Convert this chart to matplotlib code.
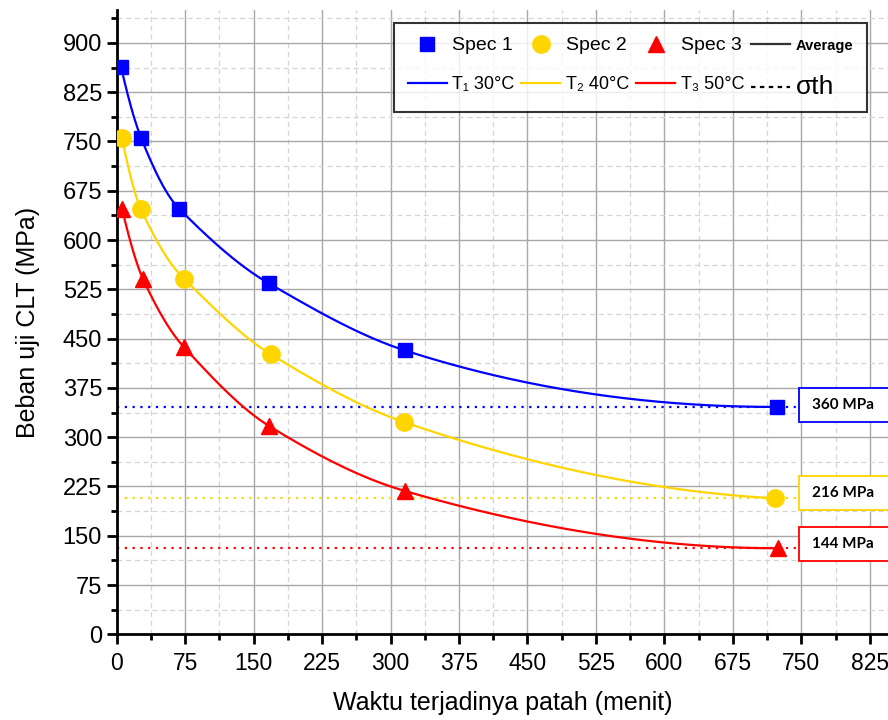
import matplotlib
matplotlib.use('Agg')
import matplotlib.pyplot as plt
import numpy as np
from matplotlib.lines import Line2D
from matplotlib.patches import Rectangle
from matplotlib.ticker import MultipleLocator

### Data
spec1_x = [4.7, 26.6, 68.2, 166.8, 315.8, 723.0]
spec1_y = [864, 756, 648, 534, 432, 346]
spec2_x = [5.8, 26.6, 73.7, 169.0, 314.7, 721.0]
spec2_y = [755, 647, 541, 426, 323, 207]
spec3_x = [5.8, 28.8, 73.7, 167.0, 316.0, 724.0]
spec3_y = [648, 541, 437, 317, 218, 131]

sigma_th = [346, 208, 132]
box_labels = ['360 MPa', '216 MPa', '144 MPa']
box_centers = [348.6, 214.5, 137.0]

series_labels = ['Spec 1', 'Spec 2', 'Spec 3']
temp_labels = ['T\u2081 30\u00b0C', 'T\u2082 40\u00b0C', 'T\u2083 50\u00b0C']

BLUE = '#0000ff'
YELLOW = '#ffd500'
RED = '#ff0000'
colors = [BLUE, YELLOW, RED]
markers = ['s', 'o', '^']
msizes = [10, 12.5, 11.5]

SANS = ['Liberation Sans', 'DejaVu Sans']


def smooth_connect(x, y, n=400):
    """Akima-style cubic Hermite curve through the points, kept monotone."""
    x = np.asarray(x, float)
    y = np.asarray(y, float)
    npts = len(x)
    h = np.diff(x)
    d = np.diff(y) / h
    ext = np.zeros(npts + 3)
    ext[2:npts + 1] = d
    ext[1] = 2 * d[0] - d[1]
    ext[0] = 2 * ext[1] - d[0]
    ext[npts + 1] = 2 * d[-1] - d[-2]
    ext[npts + 2] = 2 * ext[npts + 1] - d[-1]
    m = np.zeros(npts)
    for i in range(npts):
        w1 = abs(ext[i + 3] - ext[i + 2])
        w2 = abs(ext[i + 1] - ext[i])
        if w1 + w2 > 0:
            m[i] = (w1 * ext[i + 1] + w2 * ext[i + 2]) / (w1 + w2)
        else:
            m[i] = 0.5 * (ext[i + 1] + ext[i + 2])
    # no overshoot: slope sign must follow the neighbouring segments
    for i in range(npts):
        segs = d[max(i - 1, 0):i + 1]
        if np.any(np.sign(segs) != np.sign(m[i])):
            m[i] = 0.0
    for k in range(len(d)):
        a, b = m[k] / d[k], m[k + 1] / d[k]
        s = a * a + b * b
        if s > 9:
            tau = 3 / np.sqrt(s)
            m[k], m[k + 1] = tau * a * d[k], tau * b * d[k]
    xx = np.linspace(x[0], x[-1], n)
    idx = np.clip(np.searchsorted(x, xx) - 1, 0, len(h) - 1)
    t = (xx - x[idx]) / h[idx]
    h00 = 2 * t**3 - 3 * t**2 + 1
    h10 = t**3 - 2 * t**2 + t
    h01 = -2 * t**3 + 3 * t**2
    h11 = t**3 - t**2
    yy = (h00 * y[idx] + h10 * h[idx] * m[idx]
          + h01 * y[idx + 1] + h11 * h[idx] * m[idx + 1])
    return xx, yy


fig = plt.figure(figsize=(8.88, 7.2), dpi=100)
ax = fig.add_axes([0.1314, 0.119, 0.8686, 0.867])

xs = [spec1_x, spec2_x, spec3_x]
ys = [spec1_y, spec2_y, spec3_y]
for x, y, c, m, ms in zip(xs, ys, colors, markers, msizes):
    xx, yy = smooth_connect(x, y)
    ax.plot(xx, yy, color=c, lw=1.6, zorder=3)
    ax.plot(x, y, linestyle='none', marker=m, color=c, markersize=ms, zorder=4)

# sigma_th lines and value boxes
for s, c in zip(sigma_th, colors):
    ax.hlines(s, 0, 745, colors=c, linestyles=(0, (1, 2.5)), lw=1.6, zorder=2)
for lab, yc, c in zip(box_labels, box_centers, colors):
    ax.add_patch(Rectangle((747, yc - 25.9), 110, 51.8, facecolor='white',
                           edgecolor=c, lw=1.3, clip_on=False, zorder=5))
    ax.text(795.5, yc, lab, ha='center', va='center', fontsize=11,
            fontweight='bold', family=['Lato', 'DejaVu Sans'], zorder=6)

ax.set_xlim(0, 845)
ax.set_ylim(0, 950)
ax.xaxis.set_major_locator(MultipleLocator(75))
ax.xaxis.set_minor_locator(MultipleLocator(37.5))
ax.yaxis.set_major_locator(MultipleLocator(75))
ax.yaxis.set_minor_locator(MultipleLocator(37.5))
ax.set_yticks(np.arange(0, 901, 75))

ax.grid(which='major', color='#a8a8a8', lw=1.0, zorder=0)
ax.grid(which='minor', color='#d4d4d4', lw=0.9, linestyle=(0, (4, 3)), zorder=0)
ax.set_axisbelow(True)

for side in ['top', 'right']:
    ax.spines[side].set_visible(False)
for side in ['left', 'bottom']:
    ax.spines[side].set_linewidth(2)
ax.tick_params(which='major', direction='out', length=7, width=2)
ax.tick_params(which='minor', direction='out', length=4, width=2)
ax.tick_params(axis='x', pad=6)

for lbl in ax.get_yticklabels():
    lbl.set_family(SANS)
    lbl.set_fontsize(17)
for lbl in ax.get_xticklabels():
    lbl.set_family(SANS)
    lbl.set_fontsize(16.5)

ax.set_xlabel('Waktu terjadinya patah (menit)', family=SANS, fontsize=18, labelpad=11)
ax.set_ylabel('Beban uji CLT (MPa)', family=SANS, fontsize=18, labelpad=16)

# legend: column-major order for ncol=4
handles, labels = [], []
for lab, tlab, c, m, ms in zip(series_labels, temp_labels, colors, markers, msizes):
    handles.append(Line2D([], [], linestyle='none', marker=m, color=c, markersize=ms))
    labels.append(lab)
    handles.append(Line2D([], [], color=c, lw=1.6))
    labels.append(tlab)
handles.append(Line2D([], [], color='#333333', lw=1.6))
labels.append('Average')
handles.append(Line2D([], [], color='black', lw=1.6, linestyle=(0, (2, 2))))
labels.append('\u03c3th')

leg = ax.legend(handles, labels, ncol=4, loc='upper right',
                bbox_to_anchor=(0.973, 0.979), borderaxespad=0,
                frameon=True, fancybox=False, edgecolor='black',
                prop={'family': SANS, 'size': 14}, handlelength=2.0,
                handletextpad=0.3, columnspacing=0.35, labelspacing=1.1,
                borderpad=0.7)
leg.get_frame().set_linewidth(1.5)
texts = leg.get_texts()
for i in (1, 3, 5):
    texts[i].set_fontsize(13)
texts[6].set_fontweight('bold')
texts[6].set_fontsize(10.5)
texts[7].set_fontsize(19)
leg.set_zorder(7)

fig.savefig('out.png', dpi=100)
